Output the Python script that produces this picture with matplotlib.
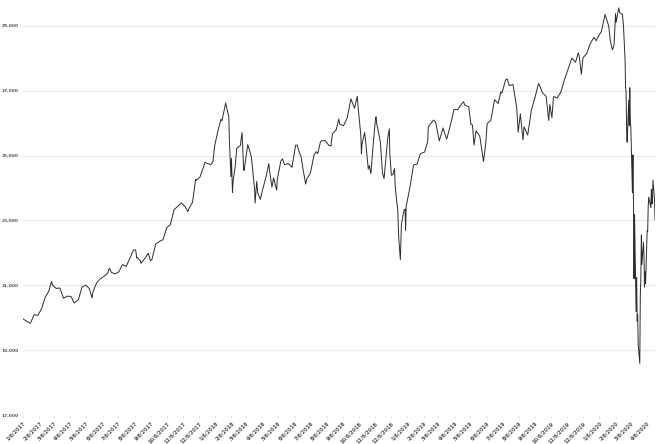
"""Dow Jones Industrial Average closes, Jan 2017 - Apr 2020."""

import matplotlib

matplotlib.use("Agg")
import matplotlib.pyplot as plt
import pandas as pd
from matplotlib.ticker import FuncFormatter

# Closing values (roughly weekly, denser where it swings).
dates_2017 = [
    "2017-01-06", "2017-01-13", "2017-01-20", "2017-01-27", "2017-02-03", "2017-02-10",
    "2017-02-17", "2017-02-24", "2017-03-01", "2017-03-03", "2017-03-10", "2017-03-17",
    "2017-03-24", "2017-03-31", "2017-04-07", "2017-04-13", "2017-04-21", "2017-04-28",
    "2017-05-05", "2017-05-12", "2017-05-17", "2017-05-19", "2017-05-26", "2017-06-02",
    "2017-06-09", "2017-06-16", "2017-06-19", "2017-06-23", "2017-06-30", "2017-07-07",
    "2017-07-14", "2017-07-21", "2017-07-28", "2017-08-04", "2017-08-08", "2017-08-10",
    "2017-08-11", "2017-08-17", "2017-08-18", "2017-08-25", "2017-09-01", "2017-09-05",
    "2017-09-08", "2017-09-15", "2017-09-22", "2017-09-29", "2017-10-06", "2017-10-13",
    "2017-10-20", "2017-10-27", "2017-11-03", "2017-11-10", "2017-11-15", "2017-11-17",
    "2017-11-24", "2017-11-30", "2017-12-01", "2017-12-08", "2017-12-15", "2017-12-18",
    "2017-12-22", "2017-12-29",
]
close_2017 = [
    19964, 19886, 19827, 20093, 20071, 20269,
    20624, 20822, 21115, 21005, 20903, 20915,
    20597, 20663, 20656, 20453, 20548, 20941,
    21007, 20897, 20606, 20805, 21080, 21206,
    21272, 21384, 21528, 21395, 21350, 21414,
    21638, 21580, 21830, 22092, 22085, 21844,
    21858, 21750, 21675, 21814, 21988, 21753,
    21798, 22268, 22350, 22405, 22774, 22871,
    23329, 23434, 23539, 23422, 23272, 23358,
    23558, 24272, 24231, 24329, 24652, 24792,
    24754, 24719,
]

dates_2018 = [
    "2018-01-02", "2018-01-05", "2018-01-12", "2018-01-17", "2018-01-19", "2018-01-26",
    "2018-02-01", "2018-02-02", "2018-02-05", "2018-02-06", "2018-02-08", "2018-02-09",
    "2018-02-13", "2018-02-16", "2018-02-23", "2018-02-26", "2018-02-27", "2018-03-01",
    "2018-03-02", "2018-03-09", "2018-03-12", "2018-03-16", "2018-03-22", "2018-03-23",
    "2018-03-26", "2018-03-28", "2018-04-02", "2018-04-06", "2018-04-13", "2018-04-18",
    "2018-04-20", "2018-04-24", "2018-04-27", "2018-05-03", "2018-05-04", "2018-05-11",
    "2018-05-14", "2018-05-18", "2018-05-25", "2018-06-01", "2018-06-08", "2018-06-11",
    "2018-06-15", "2018-06-18", "2018-06-22", "2018-06-27", "2018-06-29", "2018-07-06",
    "2018-07-13", "2018-07-17", "2018-07-20", "2018-07-25", "2018-07-27", "2018-08-03",
    "2018-08-10", "2018-08-14", "2018-08-17", "2018-08-24", "2018-08-29", "2018-08-31",
    "2018-09-07", "2018-09-14", "2018-09-20", "2018-09-21", "2018-09-28", "2018-10-03",
    "2018-10-05", "2018-10-10", "2018-10-11", "2018-10-12", "2018-10-17", "2018-10-19",
    "2018-10-24", "2018-10-26", "2018-10-29", "2018-11-02", "2018-11-07", "2018-11-08",
    "2018-11-09", "2018-11-16", "2018-11-20", "2018-11-23", "2018-11-30", "2018-12-03",
    "2018-12-04", "2018-12-07", "2018-12-10", "2018-12-13", "2018-12-14", "2018-12-17",
    "2018-12-19", "2018-12-21", "2018-12-24", "2018-12-26", "2018-12-28", "2018-12-31",
]
close_2018 = [
    24824, 25296, 25803, 26116, 26072, 26617,
    26187, 25521, 24346, 24913, 23861, 24191,
    24640, 25219, 25310, 25709, 25410, 24609,
    24538, 25336, 25179, 24947, 23958, 23533,
    24202, 23849, 23645, 23933, 24360, 24748,
    24463, 24024, 24311, 23930, 24263, 24831,
    24899, 24715, 24753, 24635, 25317, 25322,
    25090, 24988, 24581, 24117, 24271, 24456,
    25019, 25120, 25058, 25415, 25451, 25463,
    25313, 25299, 25669, 25790, 26125, 25965,
    25917, 26154, 26657, 26743, 26458, 26828,
    26447, 25599, 25052, 25340, 25706, 25444,
    24583, 24688, 24443, 25270, 26180, 26191,
    25989, 25413, 24465, 24286, 25538, 25826,
    25027, 24389, 24423, 24597, 24100, 23592,
    23324, 22445, 21792, 22878, 23062, 23327,
]

dates_2019 = [
    "2019-01-02", "2019-01-03", "2019-01-04", "2019-01-11", "2019-01-18", "2019-01-25",
    "2019-01-30", "2019-02-01", "2019-02-08", "2019-02-14", "2019-02-15", "2019-02-22",
    "2019-02-25", "2019-03-01", "2019-03-08", "2019-03-15", "2019-03-22", "2019-03-29",
    "2019-04-05", "2019-04-12", "2019-04-18", "2019-04-23", "2019-04-26", "2019-05-03",
    "2019-05-07", "2019-05-10", "2019-05-13", "2019-05-17", "2019-05-24", "2019-05-31",
    "2019-06-04", "2019-06-07", "2019-06-14", "2019-06-21", "2019-06-28", "2019-07-03",
    "2019-07-05", "2019-07-12", "2019-07-15", "2019-07-19", "2019-07-26", "2019-08-02",
    "2019-08-05", "2019-08-09", "2019-08-14", "2019-08-16", "2019-08-23", "2019-08-30",
    "2019-09-06", "2019-09-12", "2019-09-13", "2019-09-20", "2019-09-27", "2019-10-02",
    "2019-10-04", "2019-10-08", "2019-10-11", "2019-10-18", "2019-10-25", "2019-11-01",
    "2019-11-08", "2019-11-15", "2019-11-22", "2019-11-27", "2019-11-29", "2019-12-03",
    "2019-12-06", "2019-12-13", "2019-12-20", "2019-12-27", "2019-12-31",
]
close_2019 = [
    23346, 22686, 23433, 23996, 24706, 24737,
    25014, 25064, 25106, 25439, 25883, 26031,
    26091, 26026, 25450, 25849, 25502, 25929,
    26425, 26412, 26559, 26656, 26543, 26505,
    25965, 25942, 25324, 25764, 25586, 24815,
    25332, 25984, 26090, 26719, 26600, 26966,
    26922, 27332, 27359, 27154, 27192, 26485,
    25718, 26287, 25479, 25886, 25629, 26403,
    26797, 27182, 27220, 26935, 26820, 26078,
    26573, 26164, 26817, 26770, 26958, 27347,
    27681, 28005, 27876, 28164, 28051, 27503,
    28015, 28135, 28455, 28645, 28538,
]

dates_2020 = [
    "2020-01-03", "2020-01-10", "2020-01-17", "2020-01-24", "2020-01-27", "2020-01-31",
    "2020-02-03", "2020-02-06", "2020-02-07", "2020-02-12", "2020-02-14", "2020-02-19",
    "2020-02-21", "2020-02-24", "2020-02-25", "2020-02-26", "2020-02-27", "2020-02-28",
    "2020-03-02", "2020-03-03", "2020-03-04", "2020-03-05", "2020-03-06", "2020-03-09",
    "2020-03-10", "2020-03-11", "2020-03-12", "2020-03-13", "2020-03-16", "2020-03-17",
    "2020-03-18", "2020-03-19", "2020-03-20", "2020-03-23", "2020-03-24", "2020-03-25",
    "2020-03-26", "2020-03-27", "2020-03-30", "2020-03-31", "2020-04-01", "2020-04-02",
    "2020-04-03", "2020-04-06", "2020-04-07", "2020-04-08", "2020-04-09", "2020-04-13",
    "2020-04-14", "2020-04-15", "2020-04-16", "2020-04-17", "2020-04-20", "2020-04-21",
]
close_2020 = [
    28634, 28823, 29348, 28989, 28535, 28256,
    28400, 29379, 29102, 29551, 29398, 29348,
    28992, 27961, 27081, 26957, 25766, 25409,
    26703, 25917, 27091, 26122, 25865, 23851,
    25018, 23553, 21200, 23186, 20189, 21237,
    19899, 20087, 19174, 18592, 20705, 21200,
    22552, 21637, 22328, 21917, 20944, 21413,
    21053, 22680, 22654, 23434, 23719, 23391,
    23950, 23505, 23538, 24242, 23650, 23019,
]

y_ticks = [17000, 19000, 21000, 23000, 25000, 27000, 29000]

dates = pd.to_datetime(dates_2017 + dates_2018 + dates_2019 + dates_2020)
closes = close_2017 + close_2018 + close_2019 + close_2020
# one label per month, on the 6th
tick_dates = pd.date_range("2017-01-01", "2020-04-01", freq="MS") + pd.Timedelta(days=5)

fig = plt.figure(figsize=(6.59, 4.44), dpi=100)
ax = fig.add_axes([0.035, 0.0653, 0.959, 0.922])

ax.plot(dates, closes, color="#2b2b2b", linewidth=0.7)

ax.set_xlim(dates[0], dates[-1])
ax.set_ylim(17000, 29620)
ax.set_yticks(y_ticks)
ax.yaxis.set_major_formatter(FuncFormatter(lambda v, _: f"{v:,.0f}"))
ax.set_xticks(tick_dates)
ax.set_xticklabels([f"{d.month}/{d.day}/{d.year}" for d in tick_dates],
                   rotation=45, ha="right", va="top", rotation_mode="anchor")

ax.grid(axis="y", color="#e9e9e9", linewidth=0.9)
ax.set_axisbelow(True)
for side in ax.spines.values():
    side.set_visible(False)
ax.tick_params(axis="y", length=0, pad=3, labelsize=3.2, labelcolor="#555555")
ax.tick_params(axis="x", length=2.5, width=0.5, color="#dddddd", pad=1.5,
               labelsize=3.6, labelcolor="#555555")
for lab in ax.get_xticklabels() + ax.get_yticklabels():
    lab.set_fontweight("bold")

fig.savefig("out.png", dpi=100)
